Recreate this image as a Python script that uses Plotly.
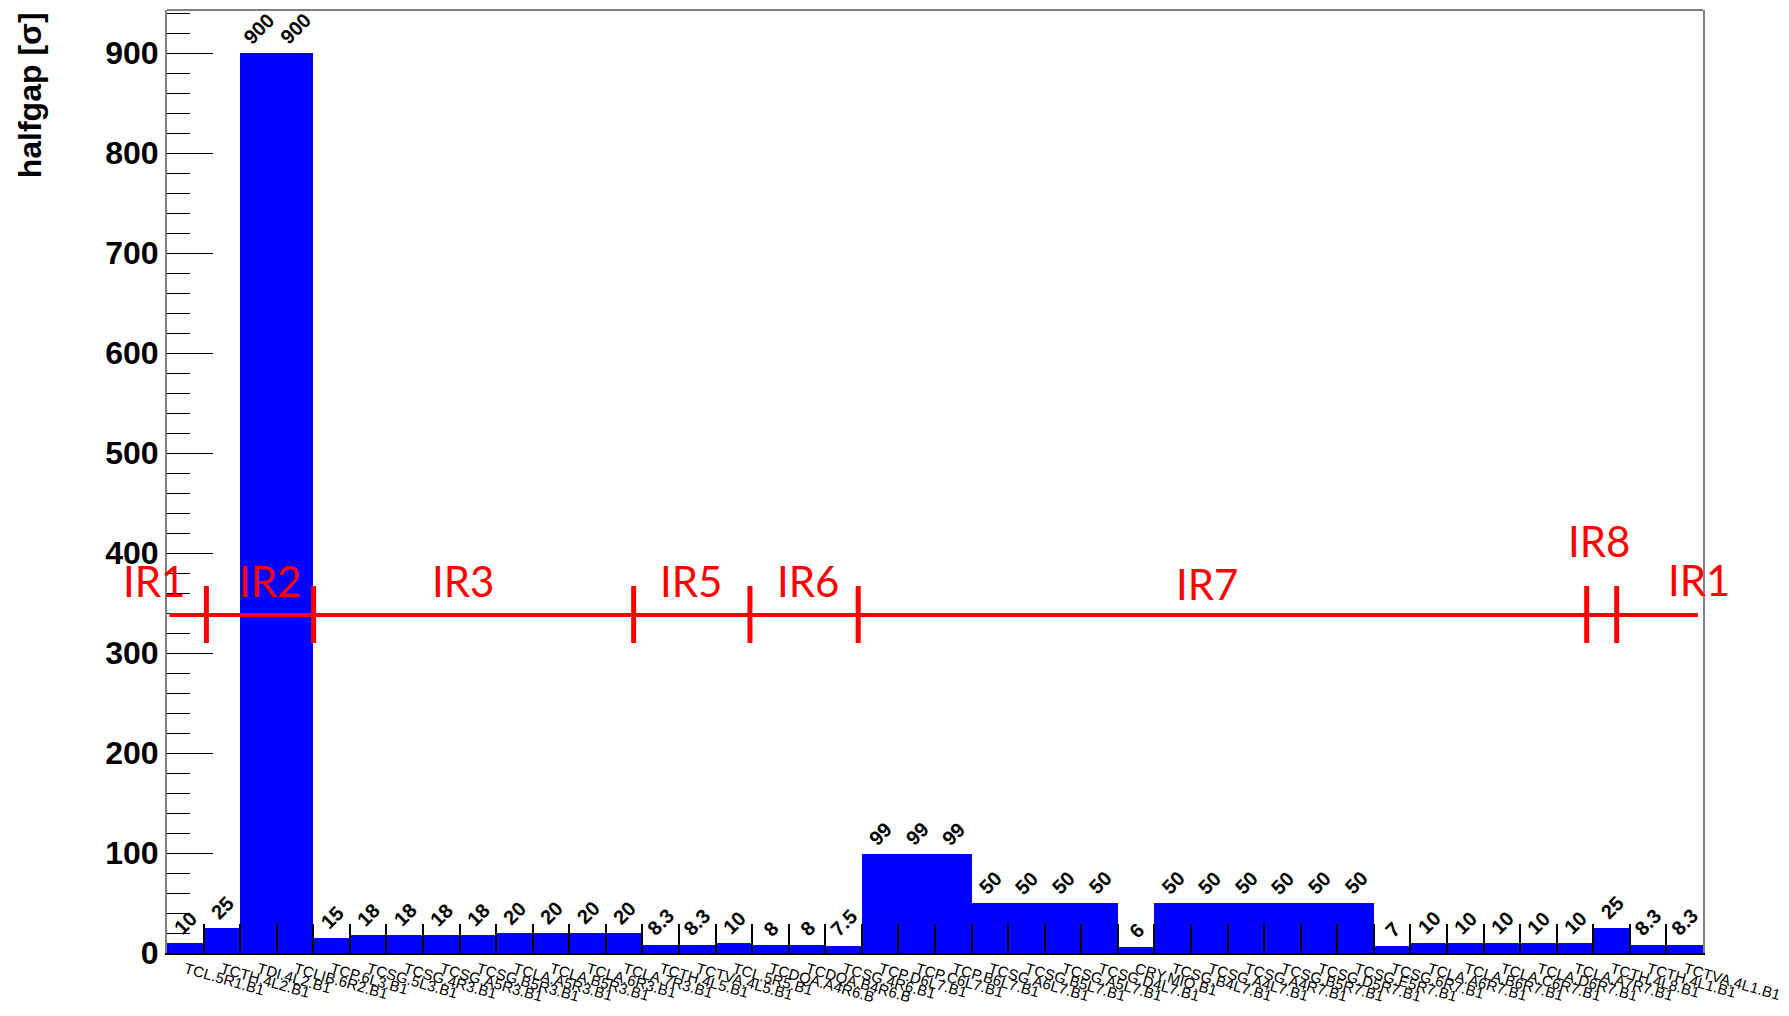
import plotly.graph_objects as go

# ---------------- data ----------------
collimators = [
    "TCL.5R1.B1", "TCTH.4L2.B1", "TDI.4L2.B1", "TCLIB.6R2.B1", "TCP.6L3.B1",
    "TCSG.5L3.B1", "TCSG.4R3.B1", "TCSG.A5R3.B1", "TCSG.B5R3.B1", "TCLA.A5R3.B1",
    "TCLA.B5R3.B1", "TCLA.6R3.B1", "TCLA.7R3.B1", "TCTH.4L5.B1", "TCTVA.4L5.B1",
    "TCL.5R5.B1", "TCDQA.A4R6.B", "TCDQA.B4R6.B", "TCSG.4R6.B1", "TCP.D6L7.B1",
    "TCP.C6L7.B1", "TCP.B6L7.B1", "TCSG.A6L7.B1", "TCSG.B5L7.B1", "TCSG.A5L7.B1",
    "TCSG.D4L7.B1", "CRY.MIO.B1", "TCSG.B4L7.B1", "TCSG.A4L7.B1", "TCSG.A4R7.B1",
    "TCSG.B5R7.B1", "TCSG.D5R7.B1", "TCSG.E5R7.B1", "TCSG.6R7.B1", "TCLA.A6R7.B1",
    "TCLA.B6R7.B1", "TCLA.C6R7.B1", "TCLA.D6R7.B1", "TCLA.A7R7.B1", "TCTH.4L8.B1",
    "TCTH.4L1.B1", "TCTVA.4L1.B1",
]
halfgap = [
    10, 25, 900, 900, 15,
    18, 18, 18, 18, 20,
    20, 20, 20, 8.3, 8.3,
    10, 8, 8, 7.5, 99,
    99, 99, 50, 50, 50,
    50, 6, 50, 50, 50,
    50, 50, 50, 7, 10,
    10, 10, 10, 10, 25,
    8.3, 8.3,
]
value_labels = [f"{v:g}" for v in halfgap]

# IR overlay (hand-drawn annotation layer in the original)
ir_names = ["IR1", "IR2", "IR3", "IR5", "IR6", "IR7", "IR8", "IR1"]
ir_label_x = [-0.36, 2.83, 8.10, 14.33, 17.53, 28.44, 39.16, 41.88]
ir_label_y = [372, 372, 372, 372, 372, 369, 412, 373]
ir_boundaries = [1.077, 4.01, 12.76, 15.94, 18.90, 38.82, 39.64]
ir_line_level = 338
ir_line_span = [0.066, 41.86]
ir_tick_span = [310, 367]

# ---------------- figure ----------------
n = len(collimators)
centers = [i + 0.5 for i in range(n)]
edges = list(range(1, n))

fig = go.Figure()
fig.add_trace(go.Bar(
    x=centers, y=halfgap, width=1.0,
    marker=dict(color="#0000ff", line=dict(width=0)),
    hoverinfo="skip", showlegend=False,
))

AXFONT = dict(family="Liberation Sans, Arial, sans-serif", color="black")

# the html page body has an 8px default margin: compensate in the layout
fig.update_layout(
    width=1773, height=1000,
    margin=dict(l=159, r=78, t=2, b=55, autoexpand=False),
    paper_bgcolor="white", plot_bgcolor="white",
    bargap=0,
    showlegend=False,
)

fig.update_xaxes(
    range=[0, n], automargin=False,
    tickmode="array", tickvals=centers, ticktext=collimators,
    tickangle=16, ticks="", ticklen=0,
    tickfont=dict(size=15, **AXFONT),
    ticklabeloverflow="allow",
    showgrid=False, zeroline=False,
    showline=True, linecolor="black", linewidth=2,
    minor=dict(tickmode="array", tickvals=edges, ticks="inside", ticklen=29,
               tickcolor="black", tickwidth=1.5, showgrid=False),
)
fig.update_yaxes(
    range=[0, 943], automargin=False,
    tickmode="linear", tick0=0, dtick=100,
    ticks="inside", ticklen=46, tickwidth=1, tickcolor="black",
    tickfont=dict(size=32, weight="bold", **AXFONT),
    showgrid=False, zeroline=False,
    showline=True, linecolor="#808080", linewidth=2, mirror=True,
    minor=dict(dtick=20, ticks="inside", ticklen=23, tickcolor="black",
               tickwidth=1, showgrid=False),
)

# top frame line
fig.add_shape(type="line", xref="paper", yref="paper", x0=0, x1=1, y0=1, y1=1,
              line=dict(color="#808080", width=2))

# y-axis title (right-aligned at top, ROOT style)
fig.add_annotation(
    xref="paper", yref="paper", x=-0.089, y=1.0,
    xanchor="center", yanchor="top", textangle=-90,
    text="halfgap [σ]", showarrow=False,
    font=dict(size=32, weight="bold", **AXFONT),
)

# value labels above bars (TEXT45)
for xc, v, lab in zip(centers, halfgap, value_labels):
    fig.add_annotation(
        x=xc, y=v, xanchor="center", yanchor="bottom", yshift=2,
        text=lab, textangle=-45, showarrow=False,
        font=dict(size=20, weight="bold", **AXFONT),
    )

# IR overlay
fig.add_shape(type="line", x0=ir_line_span[0], x1=ir_line_span[1],
              y0=ir_line_level, y1=ir_line_level,
              line=dict(color="#ff0000", width=4))
for b in ir_boundaries:
    fig.add_shape(type="line", x0=b, x1=b, y0=ir_tick_span[0], y1=ir_tick_span[1],
                  line=dict(color="#ff0000", width=5))
for name, lx, ly in zip(ir_names, ir_label_x, ir_label_y):
    fig.add_annotation(
        xref="paper", yref="y", x=lx / n, y=ly,
        xanchor="center", yanchor="middle",
        text=name, showarrow=False,
        font=dict(family="Lato, Open Sans, sans-serif", size=42, color="#ff0000"),
    )

fig.write_html("out.html")
